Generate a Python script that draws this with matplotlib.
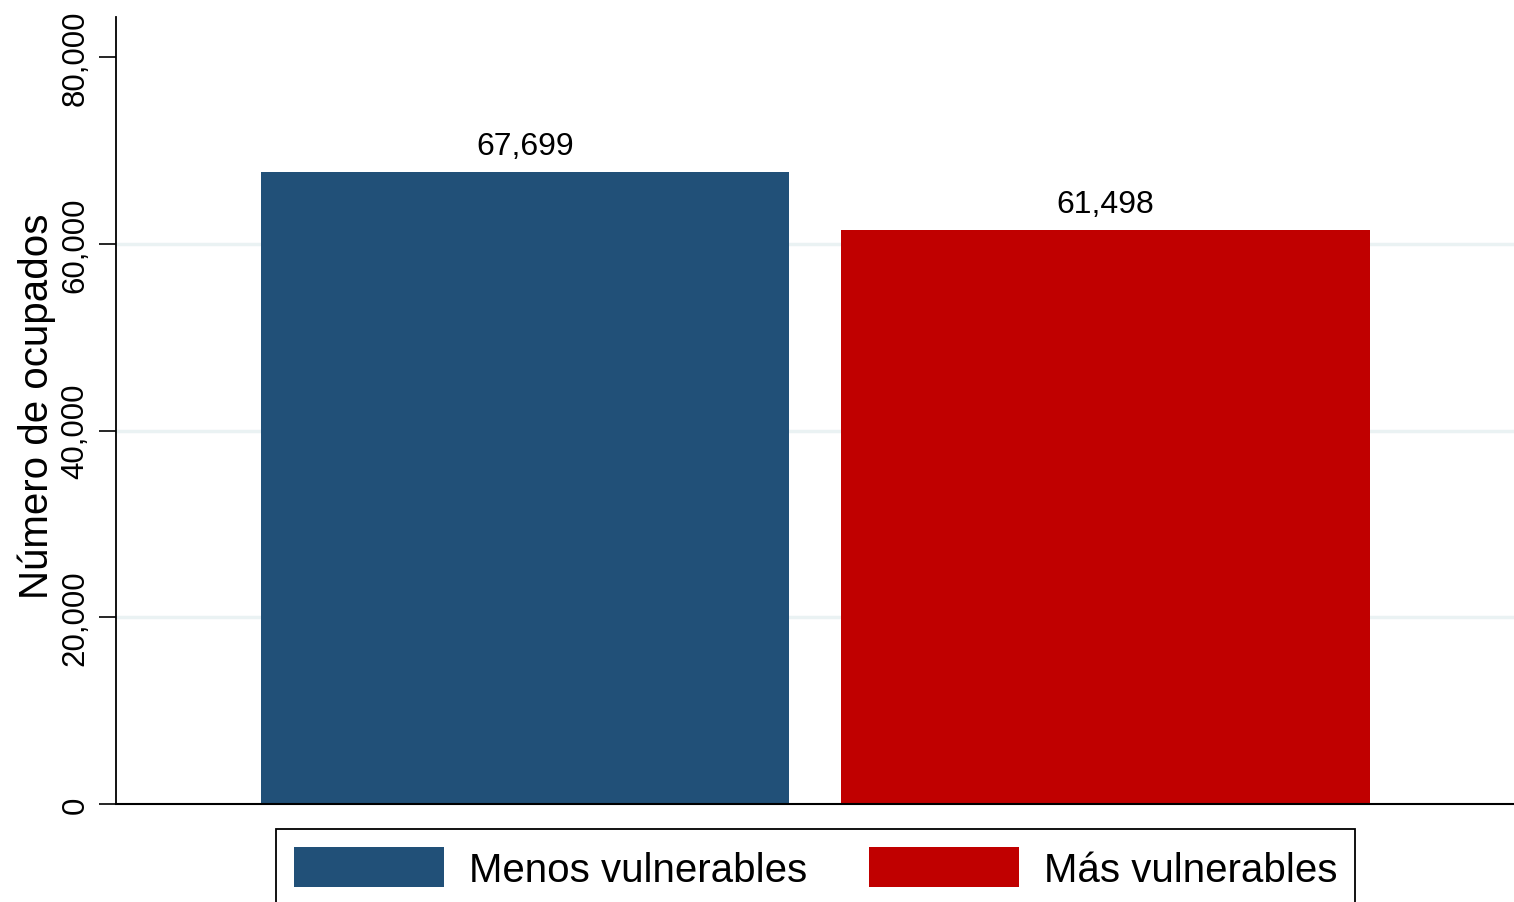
import matplotlib.pyplot as plt
import numpy as np

plt.rcParams['font.family'] = ['Liberation Sans', 'DejaVu Sans']

# datos
categorias = ['Menos vulnerables', 'Más vulnerables']
ocupados = [67699, 61498]
colores = ['#215078', '#c00000']
yticks = [0, 20000, 40000, 60000, 80000]

fig = plt.figure(figsize=(15.14, 9.03), dpi=100)
ax = fig.add_axes([116/1514, 1 - 805/903, 1 - 116/1514, (805 - 18)/903])

x = np.arange(len(categorias))
# líneas de grilla (sólo 20k-60k, como en el original)
for t in yticks[1:-1]:
    ax.axhline(t, color='#eaf2f3', linewidth=2.5, zorder=0)

for i in range(len(categorias)):
    b = ax.bar(x[i], ocupados[i], width=0.9096, color=colores[i],
               label=categorias[i], zorder=2)
    ax.bar_label(b, labels=[f'{ocupados[i]:,}'], padding=8, fontsize=23)

ax.set_xlim(-0.7046, 1.7037)
ax.set_ylim(0, 84300)
ax.set_yticks(yticks)
ax.set_yticklabels([f'{t:,}' for t in yticks], rotation=90, va='center')
ax.tick_params(axis='y', labelsize=22.5, length=12, width=1.2, pad=6.5)
ax.set_xticks([])

for s in ['top', 'right']:
    ax.spines[s].set_visible(False)
ax.spines['left'].set_linewidth(1.3)
ax.spines['bottom'].set_linewidth(1.5)

ax.set_ylabel('Número de ocupados', fontsize=29)
ax.yaxis.set_label_coords((56 - 116)/1398, (805 - 406)/787)

leg = ax.legend(loc='upper center', bbox_to_anchor=(815.5/1514, 1 - 830/903),
                bbox_transform=fig.transFigure, ncol=2, fontsize=29,
                frameon=True, fancybox=False, borderaxespad=0,
                handlelength=3.72, handleheight=1.15, handletextpad=0.62,
                columnspacing=1.54, borderpad=0.45)
leg.get_frame().set_edgecolor('black')
leg.get_frame().set_linewidth(1.3)
leg.get_frame().set_alpha(1)

fig.savefig('out.png', dpi=100)
